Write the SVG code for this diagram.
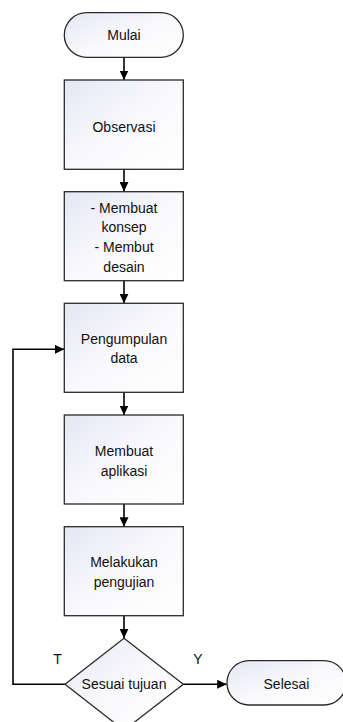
<svg xmlns="http://www.w3.org/2000/svg" width="343" height="722" viewBox="0 0 343 722">
<style>
.shape{fill:url(#g);stroke:#2a2a2a;stroke-width:1.3}
.t{font-family:"Liberation Sans",Arial,sans-serif;font-size:14px;fill:#111;text-anchor:middle}
.c{fill:none;stroke:#000;stroke-width:1.6}
</style>
<defs>
<linearGradient id="g" x1="0" y1="0" x2="1" y2="1">
<stop offset="0" stop-color="#e4e6f4"/>
<stop offset="0.5" stop-color="#f9f9fc"/>
<stop offset="1" stop-color="#ffffff"/>
</linearGradient>
<marker id="a" markerUnits="userSpaceOnUse" markerWidth="10" markerHeight="9" refX="9.5" refY="4.5" orient="auto">
<path d="M0,0 L9.5,4.5 L0,9 z" fill="#000"/>
</marker>
</defs>
<rect width="343" height="722" fill="#fff"/>
<g id="connectors">
<path class="c" d="M124,57.3 V80" marker-end="url(#a)"/>
<path class="c" d="M124,169.3 V191.5" marker-end="url(#a)"/>
<path class="c" d="M124,280.7 V303.3" marker-end="url(#a)"/>
<path class="c" d="M124,392.3 V415" marker-end="url(#a)"/>
<path class="c" d="M124,504 V526.7" marker-end="url(#a)"/>
<path class="c" d="M124,615.7 V638.3" marker-end="url(#a)"/>
<path class="c" d="M65,684.3 H13 V349.3 H64.3" marker-end="url(#a)"/>
<path class="c" d="M183.3,684.3 H226.7" marker-end="url(#a)"/>
<text class="t" x="57.5" y="664">T</text>
<text class="t" x="198" y="664">Y</text>
</g>
<g id="mulai">
<rect class="shape" x="64.3" y="12.7" width="119" height="44.6" rx="22.3" ry="22.3"/>
<text class="t" x="124" y="40">Mulai</text>
</g>
<g id="observasi">
<rect class="shape" x="64.3" y="80" width="119" height="89.3"/>
<text class="t" x="124" y="132">Observasi</text>
</g>
<g id="konsep">
<rect class="shape" x="64.3" y="191.7" width="119" height="89"/>
<text class="t" x="124" y="212.5">- Membuat</text>
<text class="t" x="124" y="232">konsep</text>
<text class="t" x="124" y="252">- Membut</text>
<text class="t" x="124" y="271.5">desain</text>
</g>
<g id="pengumpulan">
<rect class="shape" x="64.3" y="303.3" width="119" height="89"/>
<text class="t" x="124" y="343.5">Pengumpulan</text>
<text class="t" x="124" y="363">data</text>
</g>
<g id="aplikasi">
<rect class="shape" x="64.3" y="415" width="119" height="89"/>
<text class="t" x="124" y="456">Membuat</text>
<text class="t" x="124" y="476">aplikasi</text>
</g>
<g id="pengujian">
<rect class="shape" x="64.3" y="526.7" width="119" height="89"/>
<text class="t" x="124" y="567">Melakukan</text>
<text class="t" x="124" y="587">pengujian</text>
</g>
<g id="sesuai">
<path class="shape" d="M124,638.3 L183.3,684.3 L124,730.3 L65,684.3 z"/>
<text class="t" x="124" y="689.3">Sesuai tujuan</text>
</g>
<g id="selesai">
<rect class="shape" x="227" y="660.7" width="119" height="44.3" rx="22" ry="22"/>
<text class="t" x="286.5" y="689">Selesai</text>
</g>
</svg>
